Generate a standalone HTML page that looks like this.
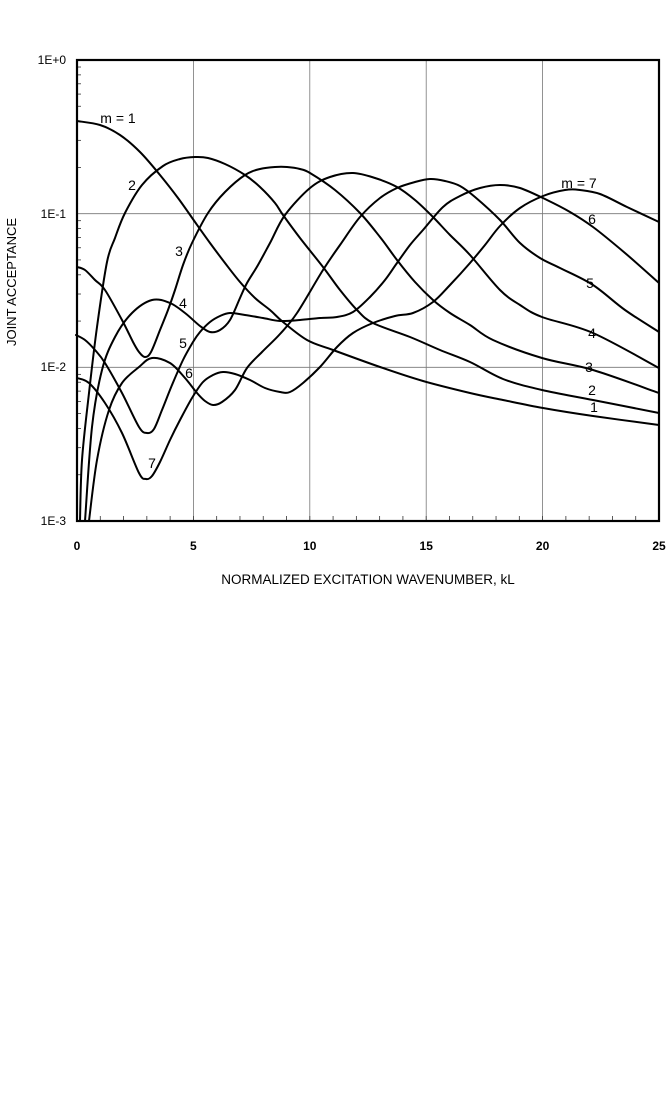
<!DOCTYPE html>
<html><head><meta charset="utf-8"><style>
html,body{margin:0;padding:0;background:#fff;}
svg{display:block;font-family:"Liberation Sans",Arial,sans-serif;}
</style></head><body>
<svg id="s" width="670" height="1109" viewBox="0 0 670 1109" xmlns="http://www.w3.org/2000/svg">
<rect width="670" height="1109" fill="#fff"/>
<g stroke="#777" stroke-width="0.8">
<line x1="193.4" y1="60" x2="193.4" y2="521"/>
<line x1="309.8" y1="60" x2="309.8" y2="521"/>
<line x1="426.2" y1="60" x2="426.2" y2="521"/>
<line x1="542.6" y1="60" x2="542.6" y2="521"/>
<line x1="77" y1="213.7" x2="659" y2="213.7"/>
<line x1="77" y1="367.3" x2="659" y2="367.3"/>
</g>
<g id="ticks" stroke="#333" stroke-width="0.8"></g>
<g id="curves" fill="none" stroke="#000" stroke-width="2" stroke-linejoin="round" stroke-linecap="round"></g>
<rect x="77" y="60" width="582" height="461" fill="none" stroke="#000" stroke-width="2.2"/>
<g font-size="12" fill="#000" text-anchor="end">
<text x="66" y="64">1E+0</text>
<text x="66" y="218">1E-1</text>
<text x="66" y="371">1E-2</text>
<text x="66" y="525">1E-3</text>
</g>
<g font-size="12" font-weight="bold" fill="#000" text-anchor="middle">
<text x="77" y="550">0</text>
<text x="193.4" y="550">5</text>
<text x="309.8" y="550">10</text>
<text x="426.2" y="550">15</text>
<text x="542.6" y="550">20</text>
<text x="659" y="550">25</text>
</g>
<text x="368" y="584" font-size="13.5" text-anchor="middle">NORMALIZED EXCITATION WAVENUMBER, kL</text>
<text x="0" y="0" font-size="13" text-anchor="middle" transform="translate(16,282) rotate(-90)">JOINT ACCEPTANCE</text>
<g font-size="14" fill="#000" text-anchor="middle">
<text x="118" y="123">m = 1</text>
<text x="132" y="190">2</text>
<text x="179" y="256">3</text>
<text x="183" y="308">4</text>
<text x="183" y="348">5</text>
<text x="189" y="378">6</text>
<text x="152" y="468">7</text>
<text x="579" y="188">m = 7</text>
<text x="592" y="224">6</text>
<text x="590" y="288">5</text>
<text x="592" y="338">4</text>
<text x="589" y="372">3</text>
<text x="592" y="395">2</text>
<text x="594" y="412">1</text>
</g>
</svg>
<script>
var C=[
[[77,121],[100,125],[120,135],[140,152],[160,175],[178,198],[195,222],[210,243],[225,263],[240,282],[255,298],[270,310],[283,322],[307,340],[333,350],[380,367],[423,381],[470,393],[503,400],[543,408],[593,416],[659,425]],
[[80,521],[82,460],[89,393],[97,327],[107,262],[115,238],[125,213],[142,185],[163,166],[180,159],[195,157],[208,158],[225,164],[245,175],[260,187],[275,203],[283,215],[300,238],[323,267],[340,290],[357,310],[373,323],[410,337],[440,350],[470,362],[503,379],[542,390],[593,400],[659,413]],
[[77,267],[85,270],[95,280],[105,290],[122,320],[133,342],[139,352],[145,357],[151,352],[160,330],[168,310],[175,290],[183,265],[192,243],[208,213],[225,192],[245,175],[260,169],[275,167],[287,167],[300,169],[310,173],[335,190],[360,213],[380,237],[397,260],[415,282],[433,300],[450,313],[470,325],[493,340],[542,358],[593,370],[659,393]],
[[85,521],[92,427],[102,370],[115,337],[132,313],[152,300],[170,303],[185,313],[200,326],[210,332],[220,330],[230,320],[240,298],[247,283],[258,265],[270,243],[285,215],[310,188],[330,177],[353,173],[375,178],[397,187],[415,200],[433,217],[450,235],[470,255],[500,290],[520,305],[542,317],[593,333],[659,368]],
[[76,335],[85,340],[95,350],[105,363],[122,393],[139,427],[147,433],[154,429],[162,410],[172,385],[183,360],[193,342],[200,332],[210,322],[220,316],[230,313],[245,315],[263,318],[280,321],[300,320],[320,318],[337,317],[353,312],[370,297],[385,280],[397,263],[410,245],[423,230],[443,207],[460,196],[480,188],[500,185],[520,188],[547,200],[570,212],[593,227],[625,253],[659,283]],
[[89,521],[97,460],[109,410],[122,383],[139,367],[152,358],[170,363],[185,378],[197,393],[205,401],[213,405],[222,402],[235,390],[247,368],[262,352],[280,334],[297,313],[323,270],[340,245],[360,217],[380,198],[397,188],[415,182],[430,179],[445,181],[460,186],[475,197],[500,220],[520,243],[540,258],[560,268],[593,285],[625,310],[659,332]],
[[77,378],[89,383],[105,403],[122,433],[139,473],[146,479],[152,476],[160,462],[170,440],[180,420],[192,398],[203,382],[213,375],[223,372],[235,374],[250,380],[265,388],[280,392],[290,392],[303,383],[320,367],[337,347],[353,333],[373,323],[395,316],[413,313],[433,302],[450,285],[470,263],[485,245],[500,226],[520,208],[543,196],[565,190],[580,190],[600,194],[627,207],[659,222]]
];
function cr(p){var d="M"+p[0][0]+","+p[0][1];for(var i=0;i<p.length-1;i++){var a=p[i-1]||p[i],b=p[i],c=p[i+1],e=p[i+2]||c;
d+=" C"+(b[0]+(c[0]-a[0])/6).toFixed(1)+","+(b[1]+(c[1]-a[1])/6).toFixed(1)+" "+(c[0]-(e[0]-b[0])/6).toFixed(1)+","+(c[1]-(e[1]-b[1])/6).toFixed(1)+" "+c[0]+","+c[1];}return d;}
var NS="http://www.w3.org/2000/svg",g=document.getElementById("curves");
C.forEach(function(p){var e=document.createElementNS(NS,"path");e.setAttribute("d",cr(p));g.appendChild(e);});
var t=document.getElementById("ticks");
function ln(x1,y1,x2,y2){var e=document.createElementNS(NS,"line");e.setAttribute("x1",x1);e.setAttribute("y1",y1);e.setAttribute("x2",x2);e.setAttribute("y2",y2);t.appendChild(e);}
for(var k=1;k<25;k++){var x=77+23.28*k;ln(x,521,x,516);}
for(var d=0;d<3;d++)for(var m=2;m<10;m++){var y=521-153.67*(d+Math.log10(m));ln(77,y,81,y);}
</script>
</body></html>
